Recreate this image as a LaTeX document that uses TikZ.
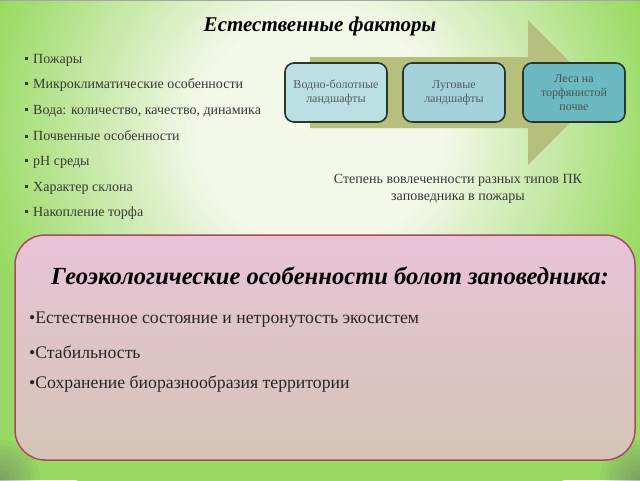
\documentclass[tikz,border=0pt]{standalone}
\usepackage{fontspec}
\setmainfont{Liberation Serif}
\definecolor{bgc}{HTML}{F7F9EF}
\definecolor{bgg}{HTML}{98DA62}
\definecolor{arrowc}{HTML}{B6BF7C}
\definecolor{boxa}{HTML}{BCDFE4}
\definecolor{boxb}{HTML}{A3D2DA}
\definecolor{boxc}{HTML}{6CB9C2}
\definecolor{boxline}{HTML}{28362C}
\definecolor{boxtext}{HTML}{555C5C}
\definecolor{listtext}{HTML}{383838}
\definecolor{pinktop}{HTML}{E8C3D7}
\definecolor{pinkbot}{HTML}{D3C5B6}
\definecolor{pinkline}{HTML}{AE4862}
\tikzset{
  stagebox/.style={draw=boxline, line width=1.6pt, rounded corners=9pt, minimum width=102pt, minimum height=59pt, inner sep=2pt, align=center, text=boxtext, font=\fontsize{12}{14}\selectfont},
  listitem/.style={anchor=west, inner sep=0pt, text=listtext, font=\fontsize{14}{17}\selectfont},
  biglist/.style={anchor=west, inner sep=0pt, text=black!85, font=\fontsize{17.7}{21}\selectfont},
}
\newcommand{\sqb}{\rule[0.22em]{3pt}{3pt}\hspace{5.5pt}}
\begin{document}
\begin{tikzpicture}[x=1pt,y=-1pt]
\path[use as bounding box] (0,0) rectangle (640,480);
\begin{scope}
  \clip (0,0) rectangle (640,480);
  \fill[bgg] (0,0) rectangle (640,480);
  \foreach \i in {0,...,70} {
    \pgfmathsetmacro\rr{420-\i*4.3}
    \pgfmathtruncatemacro\pp{max(0,min(100,(\rr-110)/(330-110)*100))}
    \fill[bgg!\pp!bgc] (320,130) ellipse ({1.05*\rr} and {\rr});
  }
  \foreach \i in {1,...,8} {
    \fill[black!60, opacity=0.07] (0,480) circle ({5*\i});
    \fill[black!60, opacity=0.07] (640,480) circle ({5*\i});
  }
  \draw[gray!70, line width=1.5pt] (0,0.5) -- (640,0.5);
\end{scope}
% arrow
\fill[arrowc] (310,57) -- (528,57) -- (528,20) -- (600,92.5) -- (528,165) -- (528,128) -- (310,128) -- cycle;
% stage boxes
\node[stagebox, fill=boxa] (b1) at (336,92.5) {Водно-болотные\\ландшафты};
\node[stagebox, fill=boxb] (b2) at (454,92.5) {Луговые\\ландшафты};
\node[stagebox, fill=boxc, text=boxline!85] (b3) at (574,92.5) {Леса на\\торфянистой\\почве};
% title
\node[font=\fontsize{21}{24}\selectfont\bfseries\itshape] (t1) at (320,26) {Естественные факторы};
% list
\node[listitem] (l1) at (24.5,60) {\sqb Пожары};
\node[listitem] (l2) at (24.5,85) {\sqb Микроклиматические особенности};
\node[listitem] (l3) at (24.5,111) {\sqb Вода: количество, качество, динамика};
\node[listitem] (l4) at (24.5,136) {\sqb Почвенные особенности};
\node[listitem] (l5) at (24.5,162) {\sqb pH среды};
\node[listitem] (l6) at (24.5,188) {\sqb Характер склона};
\node[listitem] (l7) at (24.5,213) {\sqb Накопление торфа};
% caption
\node[align=center, text=listtext, font=\fontsize{14}{17}\selectfont] (cap) at (458,189) {Степень вовлеченности разных типов ПК\\заповедника в пожары};
% bottom box
\shade[top color=pinktop, bottom color=pinkbot, draw=pinkline, line width=1.5pt, rounded corners=30pt] (15,235) rectangle (635,460);
\node[font=\fontsize{24.6}{28}\selectfont\bfseries\itshape] (t2) at (330,276) {Геоэкологические особенности болот заповедника:};
\node[biglist] (g1) at (29,320) {•Естественное состояние и нетронутость экосистем};
\node[biglist] (g2) at (29,352) {•Стабильность};
\node[biglist] (g3) at (29,384) {•Сохранение биоразнообразия территории};
\end{tikzpicture}
\end{document}
